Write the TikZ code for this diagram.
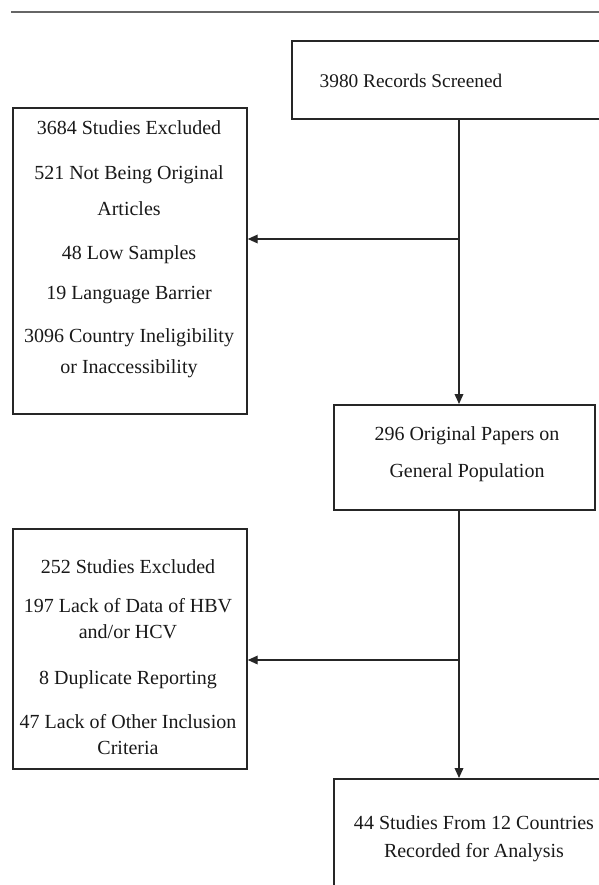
\documentclass[tikz,border=0pt]{standalone}
\usepackage{fontspec}
\setmainfont{Liberation Serif}
\usetikzlibrary{
  arrows.meta,
}

\begin{document}
\begin{tikzpicture}[
  x=0.75pt, y=-0.75pt,
  box/.style={draw=black!85, line width=1.3pt, anchor=north west, inner sep=0pt},
  txt/.style={font=\fontsize{15}{18}\selectfont, text=black!90, inner sep=0pt, anchor=base},
  flow/.style={draw=black!85, line width=1.1pt, -{Triangle[length=7.5pt,width=6.5pt]}},
]
\useasboundingbox (0,0) rectangle (599,885);
\clip (0,0) rectangle (599,885);
\draw[black!60, line width=1.5pt] (11,12) -- (599,12);

% boxes
\node[box, minimum width=250pt, minimum height=58.5pt] (scr) at (291,40) {};
\node[box, minimum width=175.5pt, minimum height=229.5pt] (excl1) at (12,107) {};
\node[box, minimum width=195.75pt, minimum height=78.75pt] (orig) at (333,404) {};
\node[box, minimum width=175.5pt, minimum height=180pt] (excl2) at (12,528) {};
\node[box, minimum width=225pt, minimum height=97.5pt] (res) at (333,778) {};

% texts
\node[txt, font=\fontsize{14.5}{17}\selectfont] (scrtxt) at (411,87) {3980 Records Screened};
\foreach \y/\t [count=\i] in {134/3684 Studies Excluded, 179/521 Not Being Original,
    215/Articles, 259/48 Low Samples, 299/19 Language Barrier,
    342/3096 Country Ineligibility, 373/or Inaccessibility}
  \node[txt] (exatxt\i) at (129,\y) {\t};
\foreach \y/\t [count=\i] in {440/296 Original Papers on, 477/General Population}
  \node[txt] (origtxt\i) at (467,\y) {\t};
\foreach \y/\t [count=\i] in {573/252 Studies Excluded, 612/197 Lack of Data of HBV,
    638/{and/or HCV}, 684/8 Duplicate Reporting, 728/47 Lack of Other Inclusion,
    754/Criteria}
  \node[txt] (exbtxt\i) at (128,\y) {\t};
\foreach \y/\t [count=\i] in {829/44 Studies From 12 Countries, 857/Recorded for Analysis}
  \node[txt] (restxt\i) at (474,\y) {\t};

% arrows
\coordinate (j1) at (459,239);
\coordinate (j2) at (459,660);
\draw[flow] (scr.south -| j1) -- (orig.north -| j1);
\draw[flow] (j1) -- (excl1.east |- j1);
\draw[flow] (orig.south -| j2) -- (res.north -| j2);
\draw[flow] (j2) -- (excl2.east |- j2);
\end{tikzpicture}
\end{document}
